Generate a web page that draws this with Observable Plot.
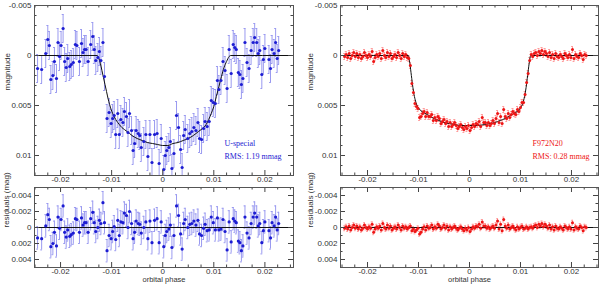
<!DOCTYPE html>
<html><head><meta charset="utf-8">
<script src="https://cdn.jsdelivr.net/npm/d3@7"></script>
<script src="https://cdn.jsdelivr.net/npm/@observablehq/plot@0.6"></script>
<style>
body{margin:0;background:#fff;}
#chart{position:relative;width:600px;height:286px;overflow:hidden;}
#chart > div{position:absolute;}
#chart svg{overflow:visible;}
</style></head><body><div id="chart"></div>
<script>
// ---- tick labels ----
const xTicks = [-0.02, -0.01, 0, 0.01, 0.02];
const magTicks = [-0.005, 0, 0.005, 0.01];
const resTicks = [-0.004, -0.002, 0, 0.002, 0.004];
const xLabel = "orbital phase";
const magLabel = "magnitude";
const resLabel = "residuals (mag)";

// ---- U-special (blue) ----
const uNote = ["U-special", "RMS: 1.19 mmag"];
const uErr = 0.0014;
const uPhase = [
-0.0245,-0.0237,-0.0229,-0.0225,-0.0222,-0.0219,-0.0215,-0.0212,-0.0208,-0.0205,
-0.0202,-0.0199,-0.0195,-0.0192,-0.0189,-0.0186,-0.0182,-0.0179,-0.0175,-0.0171,
-0.0168,-0.0163,-0.0159,-0.0156,-0.0153,-0.0150,-0.0146,-0.0141,-0.0137,-0.0134,
-0.0131,-0.0127,-0.0124,-0.0121,-0.0117,-0.0114,-0.0109,-0.0105,-0.0101,-0.0098,
-0.0095,-0.0092,-0.0088,-0.0085,-0.0082,-0.0078,-0.0075,-0.0071,-0.0068,-0.0065,
-0.0061,-0.0058,-0.0055,-0.0052,-0.0048,-0.0045,-0.0042,-0.0037,-0.0033,-0.0029,
-0.0025,-0.0021,-0.0016,-0.0011,-0.0007,-0.0003,0.0002,0.0005,0.0008,0.0012,
0.0015,0.0018,0.0022,0.0027,0.0031,0.0035,0.0038,0.0041,0.0044,0.0049,
0.0053,0.0057,0.0061,0.0065,0.0069,0.0072,0.0076,0.0080,0.0083,0.0087,
0.0091,0.0095,0.0099,0.0103,0.0107,0.0110,0.0114,0.0118,0.0122,0.0126,
0.0130,0.0134,0.0138,0.0141,0.0144,0.0148,0.0151,0.0154,0.0157,0.0161,
0.0165,0.0169,0.0173,0.0177,0.0180,0.0184,0.0187,0.0190,0.0194,0.0197,
0.0200,0.0208,0.0211,0.0214,0.0218,0.0221,0.0224,0.0227];
const uRes = [
0.0013,0.0014,-0.0002,-0.0016,-0.0010,0.0024,0.0020,0.0006,0.0023,-0.0013,
0.0001,-0.0010,-0.0027,0.0006,0.0012,0.0003,0.0011,0.0009,0.0007,-0.0011,
-0.0010,0.0006,-0.0012,-0.0003,-0.0006,-0.0006,0.0006,-0.0011,-0.0019,-0.0006,
0.0005,0.0000,-0.0009,-0.0005,-0.0031,-0.0006,0.0029,0.0010,0.0014,0.0005,
-0.0001,0.0015,-0.0009,0.0010,-0.0007,-0.0006,-0.0018,-0.0015,0.0000,-0.0020,
-0.0005,0.0014,0.0006,-0.0008,-0.0005,-0.0004,0.0007,0.0000,-0.0007,0.0014,
-0.0008,0.0019,-0.0009,-0.0011,0.0019,-0.0007,0.0024,0.0010,0.0005,0.0002,
-0.0003,0.0025,0.0010,-0.0027,-0.0015,0.0008,0.0027,-0.0005,-0.0010,0.0000,
-0.0004,-0.0005,-0.0008,-0.0003,-0.0009,0.0008,0.0010,0.0001,-0.0004,0.0004,
0.0003,-0.0013,-0.0006,0.0003,-0.0012,0.0003,0.0002,-0.0010,0.0005,0.0028,
-0.0007,0.0018,-0.0011,-0.0008,-0.0006,0.0017,0.0019,0.0029,0.0023,-0.0013,
0.0007,0.0013,-0.0005,-0.0013,-0.0018,-0.0013,-0.0002,-0.0005,0.0019,0.0004,
-0.0007,0.0004,0.0013,-0.0006,-0.0002,-0.0013,0.0003,-0.0005];
const uMag = [
0.0013,0.0014,-0.0002,-0.0016,-0.0010,0.0024,0.0020,0.0006,0.0023,-0.0013,
0.0001,-0.0010,-0.0027,0.0006,0.0012,0.0003,0.0011,0.0009,0.0007,-0.0011,
-0.0010,0.0006,-0.0012,-0.0003,-0.0006,-0.0006,0.0006,-0.0011,-0.0019,-0.0006,
0.0005,0.0002,-0.0004,0.0005,-0.0013,0.0021,0.0063,0.0057,0.0068,0.0063,
0.0060,0.0079,0.0058,0.0079,0.0064,0.0067,0.0056,0.0061,0.0077,0.0058,
0.0075,0.0095,0.0088,0.0075,0.0078,0.0080,0.0092,0.0086,0.0079,0.0101,
0.0079,0.0107,0.0079,0.0078,0.0108,0.0083,0.0114,0.0100,0.0095,0.0092,
0.0086,0.0113,0.0098,0.0060,0.0072,0.0094,0.0112,0.0080,0.0074,0.0083,
0.0078,0.0076,0.0072,0.0075,0.0067,0.0083,0.0084,0.0073,0.0066,0.0071,
0.0066,0.0045,0.0047,0.0048,0.0025,0.0034,0.0025,0.0006,0.0015,0.0033,
-0.0006,0.0018,-0.0011,-0.0008,-0.0006,0.0017,0.0019,0.0029,0.0023,-0.0013,
0.0007,0.0013,-0.0005,-0.0013,-0.0018,-0.0013,-0.0002,-0.0005,0.0019,0.0004,
-0.0007,0.0004,0.0013,-0.0006,-0.0002,-0.0013,0.0003,-0.0005];
const uModelPhase = [-0.0255,-0.0128,-0.0125,-0.0122,-0.0119,-0.0116,-0.0113,-0.0110,-0.0107,-0.0104,
-0.0101,-0.0098,-0.0095,-0.0092,-0.0088,-0.0085,-0.0080,-0.0075,-0.0070,-0.0065,-0.0060,-0.0050,
-0.0040,-0.0030,-0.0020,-0.0010,0,0.0010,0.0020,0.0030,0.0040,0.0050,0.0060,0.0070,0.0080,0.0085,
0.0090,0.0095,0.0100,0.0105,0.0110,0.0115,0.0120,0.0125,0.0130,0.0133,0.0257];
const uModelMag = [0,0,0.0003,0.0008,0.0015,0.0022,0.0029,0.0036,0.0043,0.0049,
0.0054,0.0058,0.0061,0.0064,0.0067,0.0069,0.0072,0.0074,0.0076,0.0078,0.0080,0.0083,
0.0085,0.0087,0.0088,0.0089,0.0090,0.0090,0.0088,0.0087,0.0085,0.0083,0.0080,0.0076,0.0072,0.0069,
0.0064,0.0058,0.0051,0.0041,0.0031,0.0021,0.0012,0.0006,0.0001,0,0];

// ---- F972N20 (red) ----
const fNote = ["F972N20", "RMS: 0.28 mmag"];
const fErr = 0.0003;
const fPhase = [
-0.0245,-0.0242,-0.0239,-0.0236,-0.0233,-0.0230,-0.0227,-0.0224,-0.0221,-0.0218,
-0.0215,-0.0212,-0.0209,-0.0206,-0.0203,-0.0200,-0.0197,-0.0194,-0.0191,-0.0188,
-0.0185,-0.0182,-0.0179,-0.0176,-0.0173,-0.0170,-0.0167,-0.0164,-0.0161,-0.0158,
-0.0155,-0.0152,-0.0149,-0.0146,-0.0143,-0.0140,-0.0137,-0.0134,-0.0131,-0.0128,
-0.0125,-0.0122,-0.0119,-0.0116,-0.0113,-0.0110,-0.0107,-0.0104,-0.0101,-0.0098,
-0.0095,-0.0092,-0.0089,-0.0086,-0.0083,-0.0080,-0.0077,-0.0074,-0.0071,-0.0068,
-0.0065,-0.0062,-0.0059,-0.0056,-0.0053,-0.0050,-0.0047,-0.0044,-0.0041,-0.0038,
-0.0035,-0.0032,-0.0029,-0.0026,-0.0023,-0.0020,-0.0017,-0.0014,-0.0011,-0.0008,
-0.0005,-0.0002,0.0001,0.0004,0.0007,0.0010,0.0013,0.0016,0.0019,0.0022,
0.0025,0.0028,0.0031,0.0034,0.0037,0.0040,0.0043,0.0046,0.0049,0.0052,
0.0055,0.0058,0.0061,0.0064,0.0067,0.0070,0.0073,0.0076,0.0079,0.0082,
0.0085,0.0088,0.0091,0.0094,0.0097,0.0100,0.0103,0.0106,0.0109,0.0112,
0.0115,0.0118,0.0121,0.0124,0.0127,0.0130,0.0133,0.0136,0.0139,0.0142,
0.0145,0.0148,0.0151,0.0154,0.0157,0.0160,0.0163,0.0166,0.0169,0.0172,
0.0175,0.0178,0.0181,0.0184,0.0187,0.0190,0.0193,0.0196,0.0199,0.0202,
0.0205,0.0208,0.0211,0.0214,0.0217,0.0220,0.0223,0.0226,0.0229];
const fRes = [
0.0001,-0.0001,0.0002,-0.0002,0.0003,0.0000,-0.0003,0.0001,-0.0002,0.0002,
-0.0001,0.0003,0.0001,-0.0003,0.0000,0.0002,-0.0001,0.0001,-0.0004,0.0006,
0.0002,-0.0001,0.0001,-0.0002,0.0003,-0.0005,0.0000,0.0002,-0.0003,0.0001,
-0.0002,0.0003,0.0001,-0.0001,0.0002,-0.0003,0.0000,0.0003,-0.0002,0.0001,
-0.0001,0.0002,0.0000,-0.0002,0.0004,0.0002,0.0005,0.0003,0.0001,0.0008,
0.0006,0.0002,-0.0001,0.0003,-0.0002,0.0001,0.0000,-0.0003,0.0002,-0.0001,
0.0001,-0.0004,-0.0002,0.0002,0.0000,-0.0003,0.0001,-0.0002,0.0003,-0.0001,
0.0002,0.0000,-0.0002,0.0001,0.0003,0.0001,-0.0001,0.0002,0.0004,0.0001,
0.0003,0.0000,0.0005,0.0002,-0.0001,0.0001,-0.0002,-0.0001,-0.0004,0.0001,
-0.0007,-0.0002,-0.0002,0.0001,-0.0001,0.0002,0.0000,-0.0002,0.0001,-0.0003,
-0.0008,0.0002,-0.0004,0.0004,-0.0010,-0.0002,0.0001,-0.0003,0.0002,0.0000,
-0.0002,0.0001,0.0003,-0.0001,0.0002,0.0000,-0.0002,0.0002,0.0001,-0.0001,
0.0002,0.0000,-0.0001,0.0001,-0.0002,-0.0003,0.0000,-0.0004,-0.0002,-0.0005,
-0.0001,-0.0004,-0.0002,0.0001,-0.0003,0.0002,-0.0001,0.0003,-0.0002,0.0001,
0.0002,-0.0001,0.0001,0.0003,-0.0002,0.0000,0.0002,-0.0001,0.0002,-0.0006,
0.0003,-0.0001,0.0001,0.0002,-0.0002,0.0000,0.0004,-0.0001,0.0000];
const fMag = [
0.0001,-0.0001,0.0002,-0.0002,0.0003,0.0000,-0.0003,0.0001,-0.0002,0.0002,
-0.0001,0.0003,0.0001,-0.0003,0.0000,0.0002,-0.0001,0.0001,-0.0004,0.0006,
0.0002,-0.0001,0.0001,-0.0002,0.0003,-0.0005,0.0000,0.0002,-0.0003,0.0001,
-0.0002,0.0003,0.0001,-0.0001,0.0002,-0.0003,0.0000,0.0003,-0.0002,0.0001,
-0.0001,0.0002,0.0003,0.0010,0.0028,0.0037,0.0048,0.0051,0.0053,0.0062,
0.0061,0.0058,0.0056,0.0061,0.0057,0.0061,0.0061,0.0059,0.0065,0.0062,
0.0065,0.0061,0.0063,0.0068,0.0066,0.0064,0.0068,0.0066,0.0071,0.0067,
0.0071,0.0069,0.0067,0.0070,0.0073,0.0071,0.0069,0.0072,0.0074,0.0071,
0.0073,0.0070,0.0075,0.0072,0.0069,0.0071,0.0068,0.0069,0.0066,0.0071,
0.0062,0.0067,0.0067,0.0070,0.0067,0.0070,0.0068,0.0065,0.0068,0.0063,
0.0058,0.0067,0.0061,0.0068,0.0054,0.0061,0.0063,0.0058,0.0062,0.0059,
0.0056,0.0058,0.0059,0.0054,0.0056,0.0052,0.0047,0.0047,0.0039,0.0027,
0.0018,0.0005,-0.0001,0.0001,-0.0002,-0.0003,0.0000,-0.0004,-0.0002,-0.0005,
-0.0001,-0.0004,-0.0002,0.0001,-0.0003,0.0002,-0.0001,0.0003,-0.0002,0.0001,
0.0002,-0.0001,0.0001,0.0003,-0.0002,0.0000,0.0002,-0.0001,0.0002,-0.0006,
0.0003,-0.0001,0.0001,0.0002,-0.0002,0.0000,0.0004,-0.0001,0.0000];
const fModelPhase = [-0.0255,-0.0120,-0.0117,-0.0114,-0.0111,-0.0108,-0.0105,-0.0102,-0.0099,-0.0096,
-0.0090,-0.0080,-0.0070,-0.0060,-0.0050,-0.0040,-0.0030,-0.0015,0,0.0015,0.0030,0.0040,0.0050,
0.0060,0.0070,0.0080,0.0090,0.0096,0.0099,0.0102,0.0105,0.0108,0.0111,0.0114,0.0117,0.0120,0.0257];
const fModelMag = [0,0,0.0008,0.0020,0.0032,0.0041,0.0047,0.0051,0.0053,0.0055,
0.0057,0.0060,0.0063,0.0065,0.0067,0.0068,0.0069,0.0070,0.0070,0.0070,0.0069,0.0068,0.0067,
0.0065,0.0063,0.0060,0.0057,0.0055,0.0053,0.0051,0.0047,0.0041,0.0032,0.0020,0.0008,0,0];

// ---- helpers ----
const SANS = '"Liberation Sans", Arial, sans-serif';
const SERIF = '"Liberation Serif", "Times New Roman", serif';
const rows = (ph, v, err) => ph.map((p, i) => ({p, v: v[i], lo: v[i] - err, hi: v[i] + err}));
const curve = (ph, v) => ph.map((p, i) => ({p, v: v[i]}));
const isMult = (v, s) => Math.abs(v / s - Math.round(v / s)) < 1e-6;
const stepVals = (dom, s) => d3.range(Math.ceil(dom[0] / s - 1e-9), Math.floor(dom[1] / s + 1e-9) + 1).map(i => +(i * s).toFixed(6));

function panel(cfg) {
  const {left, top, width, height, mL, mR, mT, mB, xDomain, yDomain, yTicks, yMajorStep, yLabel, yLabelDx,
         data, model, zero, ptColor, errColor, r, note, noteDx, showXLabel} = cfg;
  const fw = width - mL - mR, fh = height - mT - mB;
  const xs = stepVals(xDomain, 0.0025);
  const ys = stepVals(yDomain, 0.001);
  const xMaj = xs.filter(v => isMult(v, 0.01)), xMin = xs.filter(v => !isMult(v, 0.01));
  const yMaj = ys.filter(v => isMult(v, yMajorStep)), yMin = ys.filter(v => !isMult(v, yMajorStep));
  const tc = "#444";
  const capW = 0.00018;
  const marks = [
    Plot.ruleX(data, {x: "p", y1: "lo", y2: "hi", stroke: errColor, strokeWidth: 1, clip: true}),
    Plot.ruleY(data, {y: "lo", x1: d => d.p - capW, x2: d => d.p + capW, stroke: errColor, strokeWidth: 1, clip: true}),
    Plot.ruleY(data, {y: "hi", x1: d => d.p - capW, x2: d => d.p + capW, stroke: errColor, strokeWidth: 1, clip: true}),
  ];
  if (zero) marks.push(Plot.ruleY([0], {stroke: "#111", strokeWidth: 1}));
  if (model) marks.push(Plot.line(model, {x: "p", y: "v", stroke: "#111", strokeWidth: 1, curve: "monotone-x", clip: true}));
  marks.push(Plot.dot(data, {x: "p", y: "v", r, fill: ptColor, stroke: "none", clip: true}));
  marks.push(
    Plot.tickX(xMaj, {x: d => d, insetTop: fh - 5, stroke: tc}),
    Plot.tickX(xMaj, {x: d => d, insetBottom: fh - 5, stroke: tc}),
    Plot.tickX(xMin, {x: d => d, insetTop: fh - 2.5, stroke: tc}),
    Plot.tickX(xMin, {x: d => d, insetBottom: fh - 2.5, stroke: tc}),
    Plot.tickY(yMaj, {y: d => d, insetRight: fw - 5, stroke: tc}),
    Plot.tickY(yMaj, {y: d => d, insetLeft: fw - 5, stroke: tc}),
    Plot.tickY(yMin, {y: d => d, insetRight: fw - 2.5, stroke: tc}),
    Plot.tickY(yMin, {y: d => d, insetLeft: fw - 2.5, stroke: tc}),
    Plot.frame({stroke: "#555", strokeWidth: 1}),
    Plot.text([yLabel], {frameAnchor: "left", dx: yLabelDx, rotate: -90, fill: "#333", fontSize: 8, fontFamily: SANS})
  );
  if (showXLabel) marks.push(Plot.text([xLabel], {frameAnchor: "bottom", dy: 14.5, fill: "#333", fontSize: 7.5, fontFamily: SANS}));
  if (note) {
    marks.push(
      Plot.text([note[0]], {frameAnchor: "bottom-right", dx: noteDx, dy: -30, textAnchor: "start", fill: ptColor, fontSize: 8, fontFamily: SERIF, letterSpacing: "0.9px"}),
      Plot.text([note[1]], {frameAnchor: "bottom-right", dx: noteDx, dy: -17, textAnchor: "start", fill: ptColor, fontSize: 8, fontFamily: SERIF})
    );
  }
  const svg = Plot.plot({
    width, height, marginLeft: mL, marginRight: mR, marginTop: mT, marginBottom: mB,
    style: {fontFamily: SANS, fontSize: "8px", color: "#333", background: "transparent", overflow: "visible"},
    x: {domain: xDomain, ticks: xTicks, tickSize: 0, tickPadding: 1, tickFormat: d => String(d), label: null},
    y: {domain: yDomain, reverse: true, ticks: yTicks, tickSize: 0, tickPadding: 3, tickFormat: d => String(d), label: null},
    marks
  });
  const wrap = document.createElement("div");
  wrap.style.left = left + "px";
  wrap.style.top = top + "px";
  wrap.appendChild(svg);
  document.getElementById("chart").appendChild(wrap);
}

const uData = rows(uPhase, uMag, uErr), uResData = rows(uPhase, uRes, uErr);
const fData = rows(fPhase, fMag, fErr), fResData = rows(fPhase, fRes, fErr);
const blue = {ptColor: "#1c1cd2", errColor: "#9a9af0", r: 1.6};
const red = {ptColor: "#ee1515", errColor: "#ff9c9c", r: 1.5};

panel({left: 0, top: 0, width: 300, height: 183, mL: 34, mR: 7, mT: 5, mB: 8,
  xDomain: [-0.0251, 0.0256], yDomain: [-0.005, 0.012], yTicks: magTicks, yMajorStep: 0.005,
  yLabel: magLabel, yLabelDx: -27, data: uData, model: curve(uModelPhase, uModelMag),
  note: uNote, noteDx: -69, ...blue});
panel({left: 0, top: 183, width: 300, height: 103, mL: 34, mR: 7, mT: 4, mB: 19,
  xDomain: [-0.0251, 0.0256], yDomain: [-0.005, 0.005], yTicks: resTicks, yMajorStep: 0.002,
  yLabel: resLabel, yLabelDx: -28, data: uResData, zero: true, showXLabel: true, ...blue});
panel({left: 300, top: 0, width: 300, height: 183, mL: 40, mR: 2, mT: 5, mB: 8,
  xDomain: [-0.0253, 0.0253], yDomain: [-0.005, 0.012], yTicks: magTicks, yMajorStep: 0.005,
  yLabel: magLabel, yLabelDx: -30, data: fData, model: curve(fModelPhase, fModelMag),
  note: fNote, noteDx: -66, ...red});
panel({left: 300, top: 183, width: 300, height: 103, mL: 40, mR: 2, mT: 4, mB: 19,
  xDomain: [-0.0253, 0.0253], yDomain: [-0.005, 0.005], yTicks: resTicks, yMajorStep: 0.002,
  yLabel: resLabel, yLabelDx: -30, data: fResData, zero: true, showXLabel: true, ...red});
</script></body></html>
